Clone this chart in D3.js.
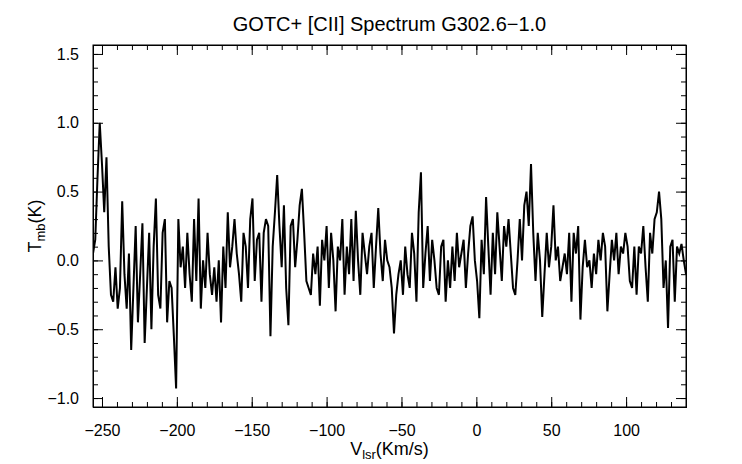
<!DOCTYPE html>
<html lang="en">
<head>
<meta charset="utf-8">
<title>GOTC+ spectrum</title>
<script src="https://cdn.jsdelivr.net/npm/d3@7"></script>
<style>
  body { margin: 0; background: white; }
  text { font-family: "Liberation Sans", Arial, sans-serif; fill: black; }
</style>
</head>
<body>
<div id="chart"></div>
<script>
// spectrum, starting at -256 km/s, 1.5 km/s per channel
var vStart = -256, vStep = 1.5;
var tmb = [
  0.05,0.15,0.6,1.0,0.7,0.35,0.75,0.1,-0.25,-0.3,
  -0.05,-0.35,-0.2,0.43,-0.1,-0.35,0.05,-0.65,-0.2,0.25,
  -0.45,-0.1,0.27,-0.6,-0.2,0.2,-0.5,0.1,0.45,-0.25,
  -0.35,0.2,0.3,-0.45,-0.15,-0.2,-0.55,-0.93,0.3,-0.05,
  0.1,-0.2,0.2,-0.1,-0.3,0.3,-0.15,0.45,-0.35,0.0,
  -0.2,0.2,-0.1,-0.25,-0.05,-0.3,0.0,-0.45,0.1,-0.2,
  0.35,-0.05,0.1,0.3,0.05,-0.1,-0.3,0.2,0.1,-0.2,
  0.3,0.45,-0.15,0.15,0.2,-0.3,0.2,0.3,0.25,-0.55,
  0.1,0.35,0.62,0.25,-0.05,0.4,-0.2,-0.47,0.25,0.3,
  -0.05,0.15,0.4,0.52,0.2,-0.15,-0.2,-0.25,0.05,-0.1,
  0.1,-0.33,0.15,0.0,0.25,-0.2,0.2,0.0,-0.37,0.1,
  0.0,0.3,-0.25,0.1,-0.1,0.3,-0.15,0.36,0.0,-0.25,
  0.2,0.05,-0.1,0.1,0.2,-0.2,0.1,0.38,0.05,-0.15,
  0.15,0.0,-0.05,-0.2,-0.53,-0.25,-0.1,0.0,-0.25,0.1,
  -0.1,-0.2,0.2,0.05,-0.3,0.35,0.64,-0.2,0.05,0.25,
  -0.15,0.15,0.0,-0.2,-0.25,0.1,0.15,-0.3,0.0,-0.2,
  0.1,-0.15,0.2,-0.05,0.05,0.15,-0.2,0.05,0.25,0.32,
  0.0,-0.15,-0.42,0.15,-0.1,0.46,0.1,-0.25,0.2,-0.1,
  0.35,0.1,-0.15,0.25,0.1,0.3,0.05,-0.2,-0.25,0.0,
  0.3,0.0,0.4,0.5,0.25,0.7,0.2,-0.15,0.2,0.0,
  -0.41,-0.1,0.2,-0.05,0.1,0.4,0.0,0.1,-0.15,-0.05,
  0.05,-0.1,0.2,-0.3,0.2,0.05,0.25,-0.43,-0.05,0.15,
  -0.05,0.0,-0.2,0.05,-0.1,0.15,0.0,0.2,0.1,-0.37,
  -0.1,0.15,0.0,0.2,-0.1,0.1,0.05,0.2,0.1,-0.15,
  -0.2,0.1,-0.25,0.1,0.05,0.25,-0.05,-0.3,0.2,0.05,
  0.3,0.35,0.5,0.3,-0.2,0.0,-0.49,0.1,0.15,-0.3,
  0.1,0.05,0.12,0.0,-0.1
];
var xTicks = [-250, -200, -150, -100, -50, 0, 50, 100];
var yTicks = [-1.0, -0.5, 0.0, 0.5, 1.0, 1.5];

var margin = {top: 45, right: 56, bottom: 57, left: 93},
    width = 742 - margin.left - margin.right,
    height = 464 - margin.top - margin.bottom;

var data = tmb.map(function(d, i) { return {v: vStart + i * vStep, t: d}; });

var x = d3.scaleLinear().domain([-256, 140]).range([0, width]);
var y = d3.scaleLinear().domain([-1.065, 1.565]).range([height, 0]);

var svg = d3.select("#chart").append("svg")
  .attr("width", 742).attr("height", 464)
  .append("g")
  .attr("transform", "translate(" + margin.left + "," + margin.top + ")");

function fmt(d) { return d3.format(".1f")(d).replace("-", "\u2212"); }
function fmtx(d) { return String(d).replace("-", "\u2212"); }

var xMinor = d3.range(-250, 141, 10);
var yMinor = d3.range(-1.0, 1.56, 0.1);

// bottom / top
svg.append("g").attr("transform", "translate(0," + height + ")")
  .call(d3.axisBottom(x).tickValues(xMinor).tickSize(-5).tickFormat(""));
svg.append("g").attr("transform", "translate(0," + height + ")")
  .call(d3.axisBottom(x).tickValues(xTicks).tickSize(-10).tickPadding(18).tickFormat(fmtx));
svg.append("g").call(d3.axisTop(x).tickValues(xMinor).tickSize(-5).tickFormat(""));
svg.append("g").call(d3.axisTop(x).tickValues(xTicks).tickSize(-10).tickFormat(""));
// left / right
svg.append("g").call(d3.axisLeft(y).tickValues(yMinor).tickSize(-5).tickFormat(""));
svg.append("g").call(d3.axisLeft(y).tickValues(yTicks).tickSize(-10).tickPadding(14).tickFormat(fmt));
svg.append("g").attr("transform", "translate(" + width + ",0)")
  .call(d3.axisRight(y).tickValues(yMinor).tickSize(-5).tickFormat(""));
svg.append("g").attr("transform", "translate(" + width + ",0)")
  .call(d3.axisRight(y).tickValues(yTicks).tickSize(-10).tickFormat(""));

svg.selectAll(".domain").attr("stroke", "black");
svg.selectAll(".tick line").attr("stroke", "black");
svg.selectAll(".tick text").style("font-size", "16px");

svg.append("rect").attr("width", width).attr("height", height)
  .attr("fill", "none").attr("stroke", "black");

svg.append("clipPath").attr("id", "clip").append("rect")
  .attr("width", width).attr("height", height);

svg.append("path").datum(data)
  .attr("clip-path", "url(#clip)")
  .attr("fill", "none").attr("stroke", "black").attr("stroke-width", 2)
  .attr("d", d3.line().x(function(d) { return x(d.v); }).y(function(d) { return y(d.t); }));

svg.append("text").attr("x", width / 2).attr("y", -14)
  .attr("text-anchor", "middle").style("font-size", "20px")
  .text("GOTC+ [CII] Spectrum G302.6\u22121.0");

var xl = svg.append("text").attr("x", width / 2).attr("y", height + 48)
  .attr("text-anchor", "middle").style("font-size", "18px");
xl.append("tspan").text("V");
xl.append("tspan").attr("dy", 4).style("font-size", "13px").text("lsr");
xl.append("tspan").attr("dy", -4).text("(Km/s)");

var yl = svg.append("text").attr("transform", "translate(-52," + (height / 2) + ") rotate(-90)")
  .attr("text-anchor", "middle").style("font-size", "18px");
yl.append("tspan").text("T");
yl.append("tspan").attr("dy", 4).style("font-size", "13px").text("mb");
yl.append("tspan").attr("dy", -4).text("(K)");
</script>
</body>
</html>
